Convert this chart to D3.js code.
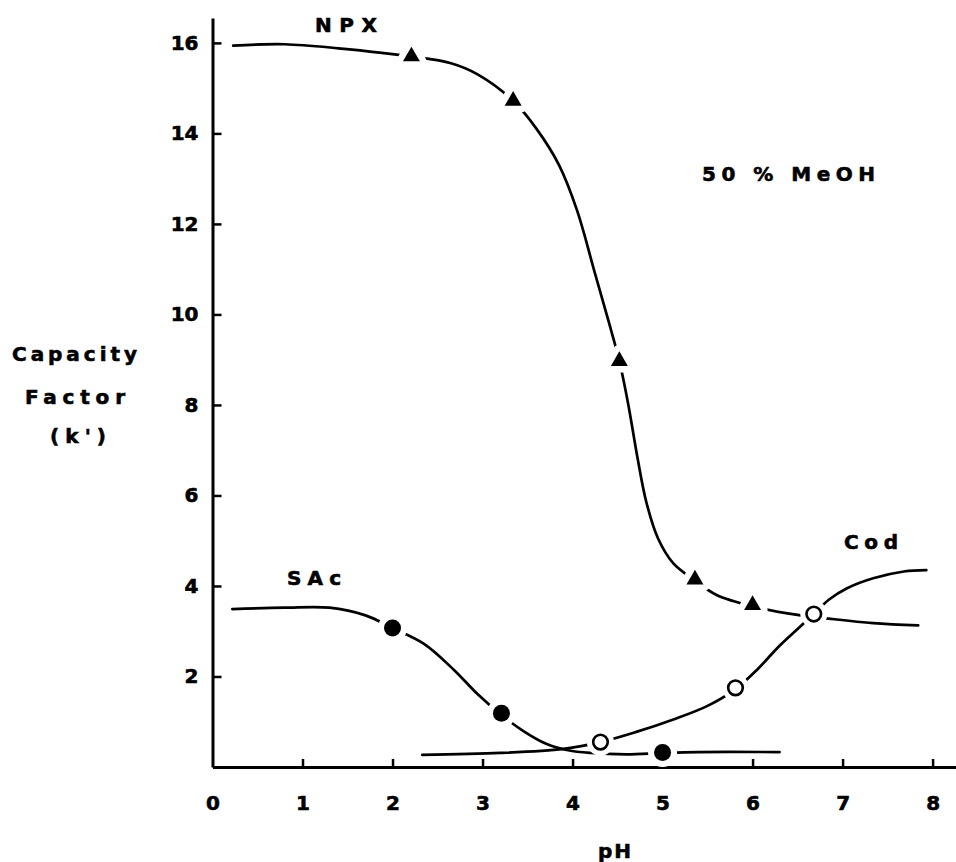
<!DOCTYPE html>
<html>
<head>
<meta charset="utf-8">
<script src="https://cdn.jsdelivr.net/npm/d3@7"></script>
<style>
  html, body { margin: 0; padding: 0; background: #fff; }
  svg { display: block; }
  text { font-family: "DejaVu Sans", "Liberation Sans", sans-serif; font-weight: bold; fill: #000; }
</style>
</head>
<body>
<svg id="chart" width="956" height="862"></svg>
<script>
// ---- data ----
const xTicks = [0, 1, 2, 3, 4, 5, 6, 7, 8];
const xTickLabels = ["0", "1", "2", "3", "4", "5", "6", "7", "8"];
const yTicks = [2, 4, 6, 8, 10, 12, 14, 16];
const yTickLabels = ["2", "4", "6", "8", "10", "12", "14", "16"];

// measured points (markers)
const npxPH = [2.21, 3.34, 4.52, 5.36, 6.0];
const npxK  = [15.7, 14.72, 8.97, 4.14, 3.58];
const sacPH = [2.0, 3.21, 5.0];
const sacK  = [3.07, 1.19, 0.32];
const codPH = [4.31, 5.81, 6.68];
const codK  = [0.55, 1.75, 3.38];

// hand-drawn curves
const npxCurvePH = [0.23, 0.8, 1.4, 2.21, 2.65, 2.95, 3.34, 3.6, 3.85, 4.05, 4.25, 4.4, 4.52, 4.62, 4.72, 4.82, 4.95, 5.12, 5.36, 5.6, 6.0, 6.5, 6.84, 7.34, 7.84];
const npxCurveK  = [15.94, 15.97, 15.88, 15.7, 15.55, 15.3, 14.72, 14.1, 13.3, 12.3, 10.9, 9.85, 8.97, 8.0, 6.85, 5.85, 5.05, 4.5, 4.12, 3.8, 3.55, 3.36, 3.28, 3.18, 3.13];
const sacCurvePH = [0.22, 0.8, 1.3, 1.7, 2.0, 2.35, 2.68, 2.95, 3.21, 3.45, 3.7, 3.95, 4.2, 4.6, 5.0, 5.4, 6.3];
const sacCurveK  = [3.49, 3.52, 3.52, 3.35, 3.07, 2.72, 2.15, 1.6, 1.15, 0.8, 0.52, 0.37, 0.31, 0.28, 0.31, 0.33, 0.33];
const codCurvePH = [2.33, 3.2, 3.9, 4.31, 4.7, 5.12, 5.5, 5.81, 6.05, 6.3, 6.5, 6.68, 6.85, 7.05, 7.34, 7.68, 7.93];
const codCurveK  = [0.27, 0.31, 0.4, 0.55, 0.77, 1.05, 1.35, 1.72, 2.15, 2.68, 3.05, 3.38, 3.7, 3.95, 4.17, 4.32, 4.35];

const seriesNames = ["NPX", "SAc", "Cod"];
const annotation = "50 % MeOH";
const xTitle = "pH";
const yTitleLines = ["Capacity", "Factor", "(k')"];

// ---- drawing ----
const svg = d3.select("#chart");
const x = d3.scaleLinear().domain([0, 8.26]).range([212.5, 956]);
const y = d3.scaleLinear().domain([0, 16.55]).range([767, 18]);

const zip = (a, b) => a.map((v, i) => [v, b[i]]);

// axes
const xAxis = d3.axisBottom(x).tickValues(xTicks)
  .tickFormat((d, i) => xTickLabels[i]).tickSizeInner(-8).tickSizeOuter(0).tickPadding(29);
const yAxis = d3.axisLeft(y).tickValues(yTicks)
  .tickFormat((d, i) => yTickLabels[i]).tickSizeInner(-9).tickSizeOuter(0).tickPadding(14);

const gx = svg.append("g").attr("transform", `translate(0,${y(0)})`).call(xAxis);
const gy = svg.append("g").attr("transform", `translate(${x(0)},0)`).call(yAxis);
[gx, gy].forEach(g => {
  g.select(".domain").attr("stroke", "#000").attr("stroke-width", 3);
  g.selectAll(".tick line").attr("stroke", "#000").attr("stroke-width", 2.5);
  g.selectAll(".tick text").attr("font-size", 20).attr("font-family", "DejaVu Sans")
    .attr("font-weight", "bold").attr("fill", "#000")
    .attr("stroke", "#000").attr("stroke-width", 0.6);
});
gx.selectAll(".tick").filter(d => d === 0).select("line").remove();

// curves
const line = d3.line().x(d => x(d[0])).y(d => y(d[1])).curve(d3.curveCatmullRom.alpha(0.5));
const curves = [zip(npxCurvePH, npxCurveK), zip(sacCurvePH, sacCurveK), zip(codCurvePH, codCurveK)];
svg.append("g").selectAll("path").data(curves).join("path")
  .attr("d", line).attr("fill", "none").attr("stroke", "#000")
  .attr("stroke-width", 2.7).attr("stroke-linecap", "round");

// marker halos (the original breaks lines near the symbols)
const tri = d3.symbol(d3.symbolTriangle, 125);
const npxPts = zip(npxPH, npxK), sacPts = zip(sacPH, sacK), codPts = zip(codPH, codK);
const halo = svg.append("g");
halo.selectAll("path.ht").data(npxPts).join("path").attr("class", "ht")
  .attr("d", tri).attr("transform", d => `translate(${x(d[0])},${y(d[1])})`)
  .attr("fill", "#fff").attr("stroke", "#fff").attr("stroke-width", 13).attr("stroke-linejoin", "round");
halo.selectAll("circle.hs").data(sacPts).join("circle").attr("class", "hs")
  .attr("cx", d => x(d[0])).attr("cy", d => y(d[1])).attr("r", 14.5).attr("fill", "#fff");
halo.selectAll("circle.hc").data(codPts).join("circle").attr("class", "hc")
  .attr("cx", d => x(d[0])).attr("cy", d => y(d[1])).attr("r", 13.5).attr("fill", "#fff");

// markers
const mk = svg.append("g");
mk.selectAll("path.t").data(npxPts).join("path").attr("class", "t")
  .attr("d", tri).attr("transform", d => `translate(${x(d[0])},${y(d[1])})`).attr("fill", "#000");
mk.selectAll("circle.s").data(sacPts).join("circle").attr("class", "s")
  .attr("cx", d => x(d[0])).attr("cy", d => y(d[1])).attr("r", 8.5).attr("fill", "#000");
mk.selectAll("circle.c").data(codPts).join("circle").attr("class", "c")
  .attr("cx", d => x(d[0])).attr("cy", d => y(d[1])).attr("r", 7.3)
  .attr("fill", "#fff").attr("stroke", "#000").attr("stroke-width", 2.6);

// labels
const labels = [
  { t: seriesNames[0], x: 315, y: 32, w: 62 },
  { t: seriesNames[1], x: 287, y: 585, w: 54 },
  { t: seriesNames[2], x: 844, y: 549, w: 54 },
  { t: annotation, x: 702, y: 181, w: 173 },
  { t: xTitle, x: 598, y: 858, w: 33 },
  { t: yTitleLines[0], x: 12, y: 361, w: 125 },
  { t: yTitleLines[1], x: 25, y: 404, w: 100 },
  { t: yTitleLines[2], x: 50, y: 443, w: 56 }
];
svg.append("g").selectAll("text").data(labels).join("text")
  .attr("x", d => d.x).attr("y", d => d.y)
  .attr("font-size", 20)
  .attr("stroke", "#000").attr("stroke-width", 0.6)
  .attr("textLength", d => d.w).attr("lengthAdjust", "spacing")
  .style("white-space", "pre")
  .text(d => d.t);
</script>
</body>
</html>
